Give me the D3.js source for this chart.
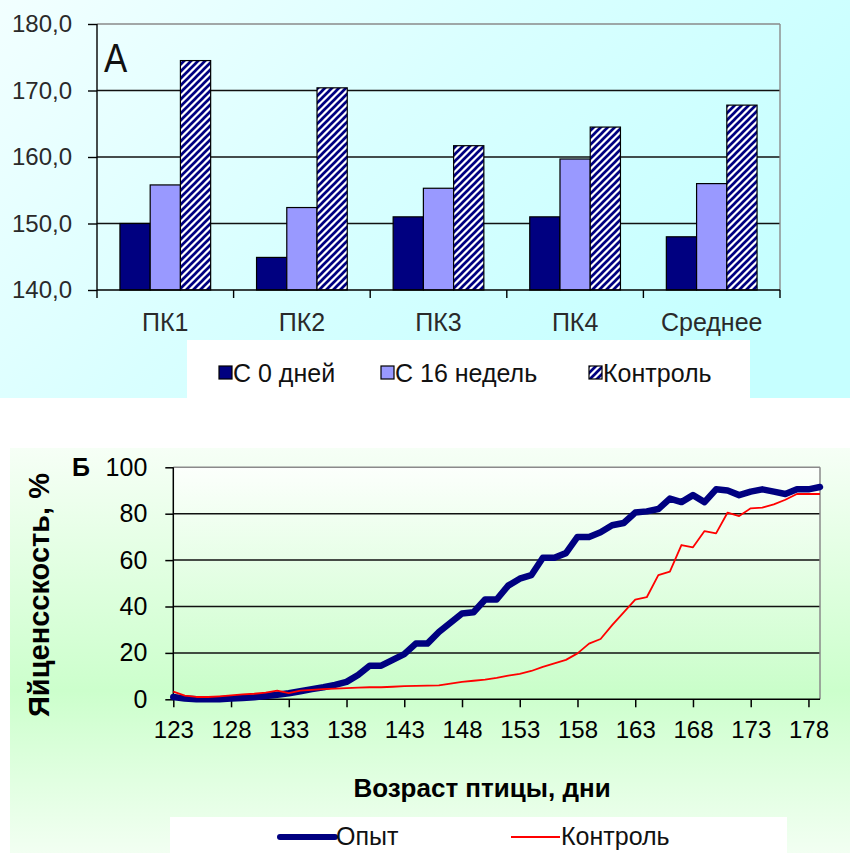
<!DOCTYPE html>
<html><head><meta charset="utf-8">
<script src="https://cdn.jsdelivr.net/npm/d3@7"></script>
<style>body{margin:0;background:#fff}svg{display:block}text{font-family:"Liberation Sans",Arial,sans-serif}</style>
</head><body>
<script>
// ---- Chart A data ----
const categories = ["ПК1","ПК2","ПК3","ПК4","Среднее"];
const seriesNames = ["С 0 дней","С 16 недель","Контроль"];
const seriesFrom0 = [150.0,144.9,151.0,151.0,148.0];
const seriesFrom16 = [155.8,152.4,155.3,159.7,156.0];
const seriesControlA = [174.5,170.4,161.7,164.5,167.8];
const yTicksA = [140,150,160,170,180];

// ---- Chart B data ----
const days = [123,124,125,126,127,128,129,130,131,132,133,134,135,136,137,138,139,140,141,142,143,144,145,146,147,148,149,150,151,152,153,154,155,156,157,158,159,160,161,162,163,164,165,166,167,168,169,170,171,172,173,174,175,176,177,178,179];
const opyt = [1.0,0.3,0,0,0,0.3,0.6,0.9,1.4,2.0,2.6,3.5,4.4,5.2,6.2,7.5,10.5,14.5,14.5,17,19.5,24,24,29,33,37,37.5,43,43,49,52,53.5,61,61,63,70,70,72,75,76,80.5,81,82,86.5,85,88,85,90.5,90,88,89.5,90.5,89.5,88.5,90.5,90.5,91.5];
const kontrol = [3.3,1.6,1.0,1.0,1.3,1.7,2.1,2.4,2.9,3.7,2.7,3.7,4.1,4.4,4.6,4.8,5.0,5.2,5.2,5.4,5.7,5.8,5.9,6.0,6.8,7.5,8.0,8.5,9.2,10.2,11.0,12.2,14.0,15.5,17,19.8,24,26,32,37.5,43,44,53.5,55,66.5,65.5,72.5,71.5,80.5,79,82.3,82.6,84,86,88.5,88.5,88.5];
const xTickLabelsB = [123,128,133,138,143,148,153,158,163,168,173,178];
const yTicksB = [0,20,40,60,80,100];
const lineNames = ["Опыт","Контроль"];

const W = 850, H = 853;
const svg = d3.select("body").append("svg").attr("width", W).attr("height", H);
const defs = svg.append("defs");

function grad(id, x2, y2, stops) {
  const g = defs.append("linearGradient").attr("id", id)
    .attr("x1", 0).attr("y1", 0).attr("x2", x2).attr("y2", y2);
  stops.forEach(s => g.append("stop").attr("offset", s[0]).attr("stop-color", s[1]));
}
grad("gA", 1, 0.5, [[0, "#f2ffff"], [0.5, "#d9ffff"], [1, "#c6ffff"]]);
grad("gB", 0, 1, [[0, "#f6fff6"], [0.6, "#ccffcc"], [1, "#f2fff2"]]);
grad("gBplot", 0, 1, [[0, "#fcfffc"], [1, "#c8fec8"]]);

const hatch = defs.append("pattern").attr("id", "hatch").attr("patternUnits", "userSpaceOnUse")
  .attr("width", 7).attr("height", 7);
hatch.append("rect").attr("width", 7).attr("height", 7).attr("fill", "#fff");
hatch.append("path").attr("d", "M-1,1 l2,-2 M0,7 l7,-7 M6,8 l2,-2")
  .attr("stroke", "#000080").attr("stroke-width", 2.7);

// ---------- backgrounds ----------
svg.append("rect").attr("x", 0).attr("y", 0).attr("width", W).attr("height", 398).attr("fill", "url(#gA)");
svg.append("rect").attr("x", 10).attr("y", 448).attr("width", 840).attr("height", 405).attr("fill", "url(#gB)");

// ================= CHART A =================
const xA = d3.scaleBand().domain(categories).range([97, 780]).paddingInner(0.336).paddingOuter(0.168);
const xA1 = d3.scaleBand().domain(seriesNames).range([0, xA.bandwidth()]);
const yA = d3.scaleLinear().domain([140, 180]).range([290, 24]);
const gA = svg.append("g");

gA.selectAll("line.grid").data(yTicksA.filter(v => v > 140 && v < 180)).join("line")
  .attr("x1", 97).attr("x2", 780).attr("y1", d => yA(d)).attr("y2", d => yA(d))
  .attr("stroke", "#111").attr("stroke-width", 1.4);
gA.append("line").attr("x1", 97).attr("x2", 780).attr("y1", yA(180)).attr("y2", yA(180)).attr("stroke", "#8a8a8a").attr("stroke-width", 1.4);
gA.append("line").attr("x1", 780).attr("x2", 780).attr("y1", yA(180)).attr("y2", yA(140)).attr("stroke", "#8a8a8a").attr("stroke-width", 1.4);

const seriesA = [
  {name: seriesNames[0], values: seriesFrom0, fill: "#000080"},
  {name: seriesNames[1], values: seriesFrom16, fill: "#9999ff"},
  {name: seriesNames[2], values: seriesControlA, fill: "url(#hatch)"}
];
seriesA.forEach(s => {
  gA.selectAll(null).data(categories).join("rect")
    .attr("x", c => xA(c) + xA1(s.name))
    .attr("width", xA1.bandwidth())
    .attr("y", (c, i) => yA(s.values[i]))
    .attr("height", (c, i) => yA(140) - yA(s.values[i]))
    .attr("fill", s.fill).attr("stroke", "#000").attr("stroke-width", 1.2);
});

const yAxisA = d3.axisLeft(yA).tickValues(yTicksA).tickSize(9).tickPadding(16)
  .tickFormat(d => d3.format(".1f")(d).replace(".", ","));
const gyA = gA.append("g").attr("transform", "translate(97,0)").call(yAxisA);
gyA.select(".domain").attr("stroke", "#000").attr("stroke-width", 1.4).attr("d", `M0,${yA(180)}V${yA(140)}`);
gyA.selectAll(".tick line").attr("stroke", "#000").attr("stroke-width", 1.4);
gyA.selectAll(".tick text").attr("font-size", 24).attr("fill", "#2a2a2a").attr("font-family", "Liberation Sans, Arial, sans-serif");

const gxA = gA.append("g").attr("transform", `translate(0,${yA(140)})`);
gxA.append("line").attr("x1", 97).attr("x2", 780).attr("stroke", "#000").attr("stroke-width", 1.4);
const bounds = categories.map(c => xA(c) - xA.step() * xA.paddingInner() / 2).concat([780]);
gxA.selectAll("line.tk").data(bounds).join("line").attr("class", "tk")
  .attr("x1", d => d).attr("x2", d => d).attr("y1", 0).attr("y2", 8).attr("stroke", "#000").attr("stroke-width", 1.4);
gxA.selectAll("text").data(categories).join("text")
  .attr("x", c => xA(c) + xA.bandwidth() / 2).attr("y", 41)
  .attr("text-anchor", "middle").attr("font-size", 25).attr("fill", "#2a2a2a").text(c => c);

gA.append("text").attr("x", 104).attr("y", 72).attr("font-size", 41).attr("fill", "#111")
  .attr("transform", "translate(104,72) scale(0.85,1) translate(-104,-72)").text("А");

// legend A
svg.append("rect").attr("x", 187).attr("y", 340).attr("width", 563).attr("height", 58).attr("fill", "#fff");
const legA = [
  {name: seriesNames[0], fill: "#000080", x: 219},
  {name: seriesNames[1], fill: "#9999ff", x: 381},
  {name: seriesNames[2], fill: "url(#hatch)", x: 589}
];
const lgA = svg.append("g").selectAll("g").data(legA).join("g").attr("transform", d => `translate(${d.x},366)`);
lgA.append("rect").attr("width", 13).attr("height", 13).attr("fill", d => d.fill).attr("stroke", "#000").attr("stroke-width", 1.2);
lgA.append("text").attr("x", 14).attr("y", 16).attr("font-size", 25).attr("fill", "#111").text(d => d.name);

// ================= CHART B =================
const xB = d3.scaleLinear().domain([123, 179]).range([173.3, 820]);
const yB = d3.scaleLinear().domain([0, 100]).range([699.3, 467.3]);
const gB = svg.append("g");
gB.append("rect").attr("x", 173.3).attr("y", 467.3).attr("width", 820 - 173.3).attr("height", 699.3 - 467.3).attr("fill", "url(#gBplot)");
gB.selectAll("line.grid").data(yTicksB.filter(v => v > 0 && v < 100)).join("line")
  .attr("x1", 173.3).attr("x2", 820).attr("y1", d => yB(d)).attr("y2", d => yB(d))
  .attr("stroke", "#111").attr("stroke-width", 1.5);
gB.append("line").attr("x1", 173.3).attr("x2", 820).attr("y1", yB(100)).attr("y2", yB(100)).attr("stroke", "#8a8a8a").attr("stroke-width", 1.5);
gB.append("line").attr("x1", 820).attr("x2", 820).attr("y1", yB(100)).attr("y2", yB(0)).attr("stroke", "#8a8a8a").attr("stroke-width", 1.5);

const yAxisB = d3.axisLeft(yB).tickValues(yTicksB).tickSize(8).tickPadding(18);
const gyB = gB.append("g").attr("transform", "translate(173.3,0)").call(yAxisB);
gyB.select(".domain").attr("stroke", "#000").attr("stroke-width", 1.5).attr("d", `M0,${yB(100)}V${yB(0)}`);
gyB.selectAll(".tick line").attr("stroke", "#000").attr("stroke-width", 1.5);
gyB.selectAll(".tick text").attr("font-size", 25).attr("fill", "#000").attr("font-family", "Liberation Sans, Arial, sans-serif");

const xAxisB = d3.axisBottom(xB).tickValues(xTickLabelsB).tickSize(8).tickPadding(14).tickFormat(d3.format("d"));
const gxB = gB.append("g").attr("transform", `translate(0,${yB(0)})`).call(xAxisB);
gxB.select(".domain").attr("stroke", "#000").attr("stroke-width", 1.5).attr("d", `M173.3,0H820`);
gxB.selectAll(".tick line").attr("stroke", "#000").attr("stroke-width", 1.5);
gxB.selectAll(".tick text").attr("font-size", 24).attr("fill", "#000").attr("font-family", "Liberation Sans, Arial, sans-serif");

const lineGen = vals => d3.line().x((d, i) => xB(days[i])).y(d => yB(d))(vals);
gB.append("path").attr("d", lineGen(opyt)).attr("fill", "none").attr("stroke", "#000080")
  .attr("stroke-width", 6.5).attr("stroke-linejoin", "round").attr("stroke-linecap", "round");
gB.append("path").attr("d", lineGen(kontrol)).attr("fill", "none").attr("stroke", "#ff0000")
  .attr("stroke-width", 1.8).attr("stroke-linejoin", "round");

gB.append("text").attr("x", 72).attr("y", 476).attr("font-size", 25).attr("font-weight", "bold").attr("fill", "#000").text("Б");
gB.append("text").attr("transform", "translate(49,595) rotate(-90)").attr("text-anchor", "middle")
  .attr("font-size", 29).attr("font-weight", "bold").attr("fill", "#000").text("Яйценсскость, %");
gB.append("text").attr("x", 482).attr("y", 797).attr("text-anchor", "middle")
  .attr("font-size", 26).attr("font-weight", "bold").attr("fill", "#000").text("Возраст птицы, дни");

svg.append("rect").attr("x", 170).attr("y", 817).attr("width", 617).attr("height", 36).attr("fill", "#fff");
const legB = [
  {name: lineNames[0], color: "#000080", w: 6, x: 280, len: 55},
  {name: lineNames[1], color: "#ff0000", w: 1.8, x: 511, len: 49}
];
const lgB = svg.append("g").selectAll("g").data(legB).join("g").attr("transform", d => `translate(${d.x},837)`);
lgB.append("line").attr("x1", 0).attr("x2", d => d.len).attr("stroke", d => d.color).attr("stroke-width", d => d.w).attr("stroke-linecap", d => d.w > 3 ? "round" : "butt");
lgB.append("text").attr("x", d => d.len + 1).attr("y", 8).attr("font-size", 25).attr("fill", "#111").text(d => d.name);
</script>
</body></html>
